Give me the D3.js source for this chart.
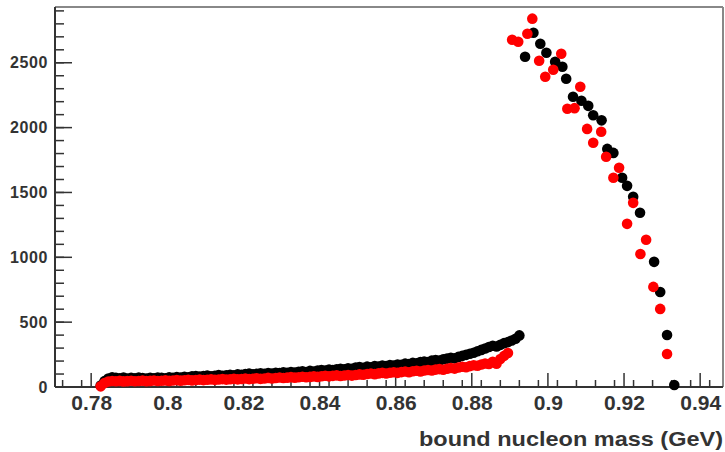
<!DOCTYPE html>
<html><head><meta charset="utf-8">
<script src="https://cdn.jsdelivr.net/npm/d3@7/dist/d3.min.js"></script>
<style>body{margin:0;background:#fff}svg{display:block}</style>
</head><body>
<script>
// Low-mass bin centres (GeV)
const lowMass = [0.7825,0.7835,0.7845,0.7855,0.7865,0.7875,0.7885,0.7895,0.7905,0.7915,
0.7925,0.7935,0.7945,0.7955,0.7965,0.7975,0.7985,0.7995,0.8005,0.8015,
0.8025,0.8035,0.8045,0.8055,0.8065,0.8075,0.8085,0.8095,0.8105,0.8115,
0.8125,0.8135,0.8145,0.8155,0.8165,0.8175,0.8185,0.8195,0.8205,0.8215,
0.8225,0.8235,0.8245,0.8255,0.8265,0.8275,0.8285,0.8295,0.8305,0.8315,
0.8325,0.8335,0.8345,0.8355,0.8365,0.8375,0.8385,0.8395,0.8405,0.8415,
0.8425,0.8435,0.8445,0.8455,0.8465,0.8475,0.8485,0.8495,0.8505,0.8515,
0.8525,0.8535,0.8545,0.8555,0.8565,0.8575,0.8585,0.8595,0.8605,0.8615,
0.8625,0.8635,0.8645,0.8655,0.8665,0.8675,0.8685,0.8695,0.8705,0.8715,
0.8725,0.8735,0.8745,0.8755,0.8765,0.8775,0.8785,0.8795,0.8805,0.8815,
0.8825,0.8835,0.8845,0.8855,0.8865,0.8875,0.8885,0.8895,0.8905,0.8915,0.8925];
const blackLow = [12,45,66,74,70,68,73,66,70,67,
72,69,66,71,68,73,70,67,74,71,
76,72,79,75,82,85,80,84,88,83,
87,92,86,90,95,91,97,94,99,103,
97,101,106,102,108,104,110,107,113,110,
116,112,118,121,116,124,120,127,131,126,
134,130,137,141,136,145,141,150,154,148,
157,152,161,158,165,161,170,166,174,171,
180,177,186,182,192,197,193,203,208,204,
214,219,225,221,232,240,248,256,264,276,
286,297,308,318,312,325,338,346,358,372,398];
const redLow = [5,30,42,46,44,47,43,45,48,44,
46,49,45,47,50,46,48,51,47,50,
53,49,52,55,51,54,57,53,56,59,
55,58,61,57,60,63,59,62,65,61,
64,67,63,66,70,66,69,73,69,72,
76,72,75,79,75,78,82,78,83,87,
82,86,90,85,89,93,88,92,97,94,
100,104,99,105,109,104,110,114,109,115,
119,114,121,125,120,127,131,127,134,138,
133,141,146,142,150,156,152,161,168,164,
174,181,177,195,180,215,240,262];

// High-mass points
const blackHighMass = [0.8940,0.8962,0.8980,0.8996,0.9019,0.9038,0.9048,0.9066,0.9088,0.9106,
0.9119,0.9141,0.9156,0.9172,0.9195,0.9208,0.9224,0.9242,0.9279,0.9295,0.9313,0.9332];
const blackHigh = [2546,2731,2647,2577,2508,2469,2377,2238,2207,2168,
2095,2056,1836,1805,1613,1551,1466,1343,965,733,401,15];
const redHighMass = [0.8906,0.8922,0.8946,0.8959,0.8977,0.8993,0.9014,0.9035,0.9051,0.9070,
0.9085,0.9103,0.9119,0.9140,0.9153,0.9172,0.9187,0.9208,0.9224,0.9243,0.9258,0.9277,0.9295,0.9313];
const redHigh = [2677,2662,2724,2840,2515,2392,2446,2569,2145,2150,
2315,1990,1883,1968,1775,1613,1690,1258,1420,1026,1135,772,602,255];

const xMajorTicks = [0.78,0.8,0.82,0.84,0.86,0.88,0.9,0.92,0.94];
const xTickLabels = ["0.78","0.8","0.82","0.84","0.86","0.88","0.9","0.92","0.94"];
const yMajorTicks = [0,500,1000,1500,2000,2500];
const yTickLabels = ["0","500","1000","1500","2000","2500"];
const xTitle = "bound nucleon mass (GeV)";

const W = 725, H = 452;
const L = 55, R = 723, T = 7, B = 387;
const svg = d3.select("body").append("svg").attr("width", W).attr("height", H);
const x = d3.scaleLinear().domain([0.7705, 0.946]).range([L, R]);
const y = d3.scaleLinear().domain([0, 2930]).range([B, T]);

// frame
svg.append("line").attr("x1", L).attr("x2", R).attr("y1", T).attr("y2", T).attr("stroke", "#888").attr("stroke-width", 2);
svg.append("line").attr("x1", R).attr("x2", R).attr("y1", T).attr("y2", B).attr("stroke", "#888").attr("stroke-width", 2);

const fontFam = "'Liberation Sans', Arial, Helvetica, sans-serif";

// x axis
const xMinor = d3.range(0, 36).map(i => 0.7725 + i * 0.005).filter(v => v >= 0.7705 && v <= 0.946);
const xAxis = d3.axisBottom(x).tickValues(xMajorTicks).tickSize(0)
  .tickFormat((d, i) => xTickLabels[i]).tickPadding(8);
const gx = svg.append("g").attr("transform", `translate(0,${B})`).call(xAxis);
gx.select(".domain").remove();
gx.selectAll("text").attr("font-family", fontFam).attr("font-weight", "bold")
  .attr("font-size", 21).attr("fill", "#333");
svg.append("g").selectAll("line").data(xMinor).join("line")
  .attr("x1", d => x(d)).attr("x2", d => x(d)).attr("y1", B).attr("y2", B - 7)
  .attr("stroke", "#333").attr("stroke-width", 1.5);
svg.append("g").selectAll("line").data(xMajorTicks).join("line")
  .attr("x1", d => x(d)).attr("x2", d => x(d)).attr("y1", B).attr("y2", B - 14)
  .attr("stroke", "#333").attr("stroke-width", 1.5);

// y axis
const yMinor = d3.range(0, 30).map(i => i * 100).filter(v => v <= 2930);
const yAxis = d3.axisLeft(y).tickValues(yMajorTicks).tickSize(0)
  .tickFormat((d, i) => yTickLabels[i]).tickPadding(7);
const gy = svg.append("g").attr("transform", `translate(${L},0)`).call(yAxis);
gy.select(".domain").remove();
gy.selectAll("text").attr("font-family", fontFam).attr("font-weight", "bold")
  .attr("font-size", 16).attr("letter-spacing", 0.6).attr("fill", "#333");
svg.append("g").selectAll("line").data(yMinor).join("line")
  .attr("x1", L).attr("x2", L + 9).attr("y1", d => y(d)).attr("y2", d => y(d))
  .attr("stroke", "#333").attr("stroke-width", 1.5);
svg.append("g").selectAll("line").data(yMajorTicks).join("line")
  .attr("x1", L).attr("x2", L + 17).attr("y1", d => y(d)).attr("y2", d => y(d))
  .attr("stroke", "#333").attr("stroke-width", 1.5);

// axis lines
svg.append("line").attr("x1", L).attr("x2", R).attr("y1", B).attr("y2", B).attr("stroke", "#333").attr("stroke-width", 2);
svg.append("line").attr("x1", L).attr("x2", L).attr("y1", T).attr("y2", B).attr("stroke", "#333").attr("stroke-width", 2);

// title
svg.append("text").attr("x", R).attr("y", 446).attr("text-anchor", "end")
  .attr("font-family", fontFam).attr("font-weight", "bold").attr("font-size", 21)
  .attr("fill", "#333").attr("textLength", 304).attr("lengthAdjust", "spacingAndGlyphs")
  .text(xTitle);

// data
const r = 5.3;
const blackPts = lowMass.map((m, i) => [m, blackLow[i]]).filter(d => d[1] != null)
  .concat(blackHighMass.map((m, i) => [m, blackHigh[i]]));
const redPts = lowMass.slice(0, redLow.length).map((m, i) => [m, redLow[i]])
  .concat(redHighMass.map((m, i) => [m, redHigh[i]]));
svg.append("g").selectAll("circle").data(blackPts).join("circle")
  .attr("cx", d => x(d[0])).attr("cy", d => y(d[1])).attr("r", r).attr("fill", "#000");
svg.append("g").selectAll("circle").data(redPts).join("circle")
  .attr("cx", d => x(d[0])).attr("cy", d => y(d[1])).attr("r", r).attr("fill", "#f00");
</script>
</body></html>
